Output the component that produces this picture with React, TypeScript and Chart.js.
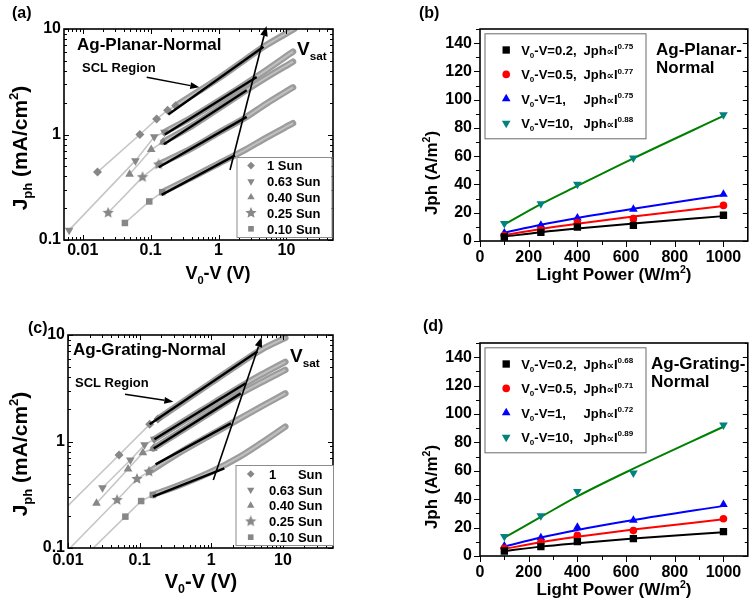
import React, { useEffect, useRef } from 'react';
import { Chart, registerables } from 'chart.js';

Chart.register(...registerables);

const FONT = "'Liberation Sans', Arial, Helvetica, 'DejaVu Sans', sans-serif";

// ================= DATA =================
// Panels (a) and (c): x = V0-V (V), y = Jph (mA/cm2), log-log
const sunLabels = ['1', '0.63', '0.40', '0.25', '0.10'];
const logXTicks = [0.01, 0.1, 1, 10];
const logYTicks = [0.1, 1, 10];

// (a) Ag-Planar-Normal : sparse markers
const aMarks1 = [[0.0165, 0.44], [0.0695, 1.0], [0.1226, 1.4], [0.178, 1.7], [0.234, 1.87]];
const aMarks063 = [[0.0063, 0.124], [0.0597, 0.565], [0.113, 0.95], [0.16, 1.05]];
const aMarks040 = [[0.049, 0.42], [0.102, 0.72], [0.153, 0.85]];
const aMarks025 = [[0.0237, 0.181], [0.076, 0.394], [0.131, 0.52]];
const aMarks010 = [[0.0418, 0.145], [0.0955, 0.232], [0.148, 0.284]];
// (a) dense measured band
const aBand1 = [[0.234, 1.87], [0.5, 2.55], [1, 3.4], [2.5, 5.15], [5, 7.0], [13, 10]];
const aBand063 = [[0.16, 1.05], [0.4, 1.45], [1, 2.08], [2.5, 3.02], [5, 4.05], [12.5, 6.1]];
const aBand040 = [[0.153, 0.85], [0.4, 1.2], [1, 1.76], [2.5, 2.6], [5, 3.45], [12.5, 4.9]];
const aBand025 = [[0.131, 0.52], [0.4, 0.74], [1, 1.04], [2.5, 1.45], [5, 1.95], [12.5, 2.8]];
const aBand010 = [[0.148, 0.284], [0.4, 0.39], [1, 0.53], [2.5, 0.72], [5, 0.93], [12.5, 1.28]];
// (a) SCL fits
const aFit1 = [[0.182, 1.55], [4.6, 6.8]];
const aFit063 = [[0.162, 1.0], [3.65, 3.5]];
const aFit040 = [[0.157, 0.81], [2.6, 2.63]];
const aFit025 = [[0.132, 0.49], [2.6, 1.47]];
const aFit010 = [[0.145, 0.268], [1.75, 0.634]];

// (c) Ag-Grating-Normal : thin-line lead-in points (no marker)
const cLead1 = [0.01, 0.25];
const cLead025 = [0.0107, 0.1];
const cLead010 = [0.0225, 0.1];
const cMarks1 = [[0.0516, 0.747], [0.138, 1.45], [0.18, 1.63]];
const cMarks063 = [[0.0303, 0.368], [0.0742, 0.67], [0.117, 0.93], [0.16, 1.05]];
const cMarks040 = [[0.025, 0.263], [0.0689, 0.552], [0.111, 0.785], [0.155, 0.86]];
const cMarks025 = [[0.0484, 0.282], [0.0918, 0.445], [0.135, 0.521]];
const cMarks010 = [[0.0632, 0.197], [0.105, 0.276], [0.153, 0.315]];
const cBand1 = [[0.18, 1.63], [0.4, 2.35], [1, 3.57], [2.5, 5.4], [5, 7.3], [10.8, 9.4]];
const cBand063 = [[0.16, 1.05], [0.4, 1.53], [1, 2.23], [2.5, 3.25], [5, 4.25], [10.8, 5.6]];
const cBand040 = [[0.155, 0.86], [0.4, 1.28], [1, 1.89], [2.5, 2.8], [5, 3.6], [10.8, 4.7]];
const cBand025 = [[0.135, 0.52], [0.4, 0.82], [1, 1.16], [2.5, 1.64], [5, 2.13], [10.8, 2.83]];
const cBand010 = [[0.153, 0.315], [0.4, 0.4], [1, 0.52], [2.5, 0.72], [5, 0.97], [10.8, 1.38]];
const cFit1 = [[0.138, 1.45], [4.4, 7.0]];
const cFit063 = [[0.161, 1.05], [3.03, 3.52]];
const cFit040 = [[0.157, 0.86], [2.58, 2.83]];
const cFit025 = [[0.167, 0.61], [1.88, 1.48]];
const cFit010 = [[0.153, 0.303], [1.52, 0.56]];

// Panels (b) and (d): x = Light Power (W/m2), y = Jph (A/m2)
const lightPower = [100, 250, 400, 630, 1000];
const linXTicks = [0, 200, 400, 600, 800, 1000];
const linXMinor = [100, 300, 500, 700, 900, 1100];
const linYTicks = [0, 20, 40, 60, 80, 100, 120, 140];
const linYMinor = [10, 30, 50, 70, 90, 110, 130, 150];
const biasLabels = ['0.2', '0.5', '1', '10'];

const bJ02 = [2.8, 6.1, 9.9, 11.1, 18.2];
const bJ05 = [3.8, 8.0, 13.0, 15.8, 25.2];
const bJ1 = [5.7, 11.1, 16.3, 22.4, 33.0];
const bJ10 = [12.3, 26.4, 40.1, 58.7, 89.4];
const bFit02 = [3.1, 6.2, 8.8, 12.3, 17.6];
const bFit05 = [4.2, 8.5, 12.2, 17.3, 24.7];
const bFit1 = [5.8, 11.5, 16.3, 22.8, 32.5];
const bFit10 = [11.7, 26.1, 39.0, 58.5, 88.5];
const bExps = ['0.75', '0.77', '0.75', '0.88'];

const dJ02 = [3.5, 6.6, 10.1, 12.2, 17.2];
const dJ05 = [5.4, 9.7, 14.6, 17.9, 26.2];
const dJ1 = [7.1, 12.9, 20.3, 25.2, 36.3];
const dJ10 = [13.7, 28.3, 45.5, 58.5, 92.2];
const dFit02 = [3.5, 6.6, 9.0, 12.3, 16.8];
const dFit05 = [5.0, 9.7, 13.5, 18.6, 25.8];
const dFit1 = [6.7, 13.0, 18.3, 25.3, 35.3];
const dFit10 = [13.0, 27.5, 42.0, 61.5, 91.0];
const dExps = ['0.68', '0.71', '0.72', '0.89'];

// ================= HELPERS =================
const GRAY_MARK = '#878787';
const GRAY_LINE = '#c6c6c6';
const GRAY_BAND = '#9c9c9c';
const GRAY_BAND_CORE = '#c0c0c0';

let starCanvas: any = null;
function starImg() {
  if (starCanvas) return starCanvas;
  const size = 12;
  const c = document.createElement('canvas');
  c.width = size; c.height = size;
  const g = c.getContext('2d')!;
  g.fillStyle = GRAY_MARK;
  g.beginPath();
  for (let i = 0; i < 10; i++) {
    const r = i % 2 === 0 ? size / 2 : size / 4.4;
    const a = -Math.PI / 2 + (i * Math.PI) / 5;
    const x = size / 2 + r * Math.cos(a);
    const y = size / 2 + r * Math.sin(a);
    if (i) g.lineTo(x, y); else g.moveTo(x, y);
  }
  g.closePath(); g.fill();
  starCanvas = c;
  return c;
}

const sunStyles = [
  { s: 'rectRot', r: 4.5, rot: 0 },
  { s: 'triangle', r: 5, rot: 180 },
  { s: 'triangle', r: 5, rot: 0 },
  { s: 'star', r: 6, rot: 0 },
  { s: 'rect', r: 4.6, rot: 0 },
];

function drawMarker(ctx: any, style: string, x: number, y: number, r: number, color: string, rot = 0) {
  ctx.save();
  ctx.fillStyle = color;
  ctx.beginPath();
  if (style === 'rect') {
    const s = r * Math.SQRT1_2;
    ctx.rect(x - s, y - s, 2 * s, 2 * s);
  } else if (style === 'rectRot') {
    ctx.moveTo(x, y - r); ctx.lineTo(x + r, y); ctx.lineTo(x, y + r); ctx.lineTo(x - r, y); ctx.closePath();
  } else if (style === 'circle') {
    ctx.arc(x, y, r, 0, Math.PI * 2);
  } else if (style === 'triangle') {
    let a = (rot * Math.PI) / 180;
    for (let i = 0; i < 3; i++) {
      const px = x + Math.sin(a) * r, py = y - Math.cos(a) * r;
      if (i) ctx.lineTo(px, py); else ctx.moveTo(px, py);
      a += (2 * Math.PI) / 3;
    }
    ctx.closePath();
  } else if (style === 'star') {
    const im = starImg();
    ctx.drawImage(im, x - im.width / 2, y - im.height / 2);
  }
  ctx.fill();
  ctx.restore();
}

type Seg = [string, string?];
function segSize(size: number, k?: string) {
  return k === 'sub' || k === 'sup' ? size * 0.62 : k === 'sm' ? size * 0.8 : size;
}
function richWidth(ctx: any, segs: Seg[], size: number) {
  let w = 0;
  for (const [t, k] of segs) {
    ctx.font = `bold ${segSize(size, k)}px ${FONT}`;
    w += ctx.measureText(t).width;
  }
  return w;
}
function drawRich(ctx: any, segs: Seg[], x: number, y: number, size: number, align = 'left') {
  let cx = align === 'center' ? x - richWidth(ctx, segs, size) / 2 : x;
  ctx.textAlign = 'left';
  ctx.textBaseline = 'alphabetic';
  ctx.fillStyle = '#000';
  for (const [t, k] of segs) {
    ctx.font = `bold ${segSize(size, k)}px ${FONT}`;
    const dy = k === 'sub' ? size * 0.25 : k === 'sup' ? -size * 0.42 : 0;
    ctx.fillText(t, cx, y + dy);
    cx += ctx.measureText(t).width;
  }
}
function rotRich(ctx: any, segs: Seg[], x: number, y: number, size: number) {
  ctx.save();
  ctx.translate(x, y);
  ctx.rotate(-Math.PI / 2);
  drawRich(ctx, segs, 0, 0, size, 'center');
  ctx.restore();
}
function arrow(ctx: any, x1: number, y1: number, x2: number, y2: number, lw: number, hl: number, hw: number) {
  const ang = Math.atan2(y2 - y1, x2 - x1);
  const bx = x2 - hl * Math.cos(ang), by = y2 - hl * Math.sin(ang);
  ctx.save();
  ctx.strokeStyle = '#000'; ctx.fillStyle = '#000'; ctx.lineWidth = lw;
  ctx.beginPath(); ctx.moveTo(x1, y1); ctx.lineTo(bx, by); ctx.stroke();
  ctx.beginPath();
  ctx.moveTo(x2, y2);
  ctx.lineTo(bx + hw * Math.sin(ang), by - hw * Math.cos(ang));
  ctx.lineTo(bx - hw * Math.sin(ang), by + hw * Math.cos(ang));
  ctx.closePath(); ctx.fill();
  ctx.restore();
}

function logMinors(min: number, max: number) {
  const out: number[] = [];
  for (let e = -4; e <= 3; e++) {
    const d = Math.pow(10, e);
    for (let k = 2; k <= 9; k++) {
      const v = k * d;
      if (v > min * 1.0001 && v < max * 0.9999) out.push(v);
    }
  }
  return out;
}

function drawFrame(chart: any, f: any) {
  const { ctx, chartArea: a, scales } = chart;
  const xs = scales.x, ys = scales.y;
  ctx.save();
  ctx.strokeStyle = '#000';
  ctx.lineWidth = 1;
  const t = (x1: number, y1: number, x2: number, y2: number) => {
    ctx.beginPath(); ctx.moveTo(x1, y1); ctx.lineTo(x2, y2); ctx.stroke();
  };
  const xl: any[] = [[f.xMajor, 5], [f.xMinor, 3]];
  for (const [vals, len] of xl) {
    for (const v of vals) {
      const px = Math.round(xs.getPixelForValue(v)) + 0.5;
      if (px < a.left - 0.5 || px > a.right + 0.5) continue;
      if (f.out) t(px, a.bottom, px, a.bottom + len + 1); else t(px, a.bottom, px, a.bottom - len);
      if (f.mirrorTop) t(px, a.top, px, a.top + len);
    }
  }
  const yl: any[] = [[f.yMajor, 5], [f.yMinor, 3]];
  for (const [vals, len] of yl) {
    for (const v of vals) {
      const py = Math.round(ys.getPixelForValue(v)) + 0.5;
      if (py < a.top - 0.5 || py > a.bottom + 0.5) continue;
      if (f.out) t(a.left, py, a.left - len - 1, py); else t(a.left, py, a.left + len, py);
      t(a.right, py, a.right - len, py);
    }
  }
  ctx.lineWidth = 1.6;
  ctx.strokeRect(a.left, a.top, a.right - a.left, a.bottom - a.top);
  ctx.restore();
}

const tickFont = { family: FONT, size: 16, weight: 'bold' as const };
const xy = (arr: number[][]) => arr.map(([x, y]) => ({ x, y }));

function baseOptions(p: any) {
  return {
    animation: false,
    responsive: false,
    events: [],
    layout: { padding: p.padding },
    plugins: { legend: { display: false }, tooltip: { enabled: false } },
    scales: {
      x: {
        type: p.xType, min: p.xMin, max: p.xMax,
        afterFit: (s: any) => { s.height = p.xAxisH; },
        afterBuildTicks: (s: any) => { s.ticks = p.xTicks.map((v: number) => ({ value: v })); },
        ticks: { font: tickFont, color: '#000', padding: p.xPad, autoSkip: false, maxRotation: 0, callback: (v: any) => String(v) },
        grid: { display: false, drawTicks: false },
        border: { display: false },
      },
      y: {
        type: p.yType, min: p.yMin, max: p.yMax,
        afterFit: (s: any) => { s.width = p.yAxisW; },
        afterBuildTicks: (s: any) => { s.ticks = p.yTicks.map((v: number) => ({ value: v })); },
        ticks: { font: tickFont, color: '#000', padding: p.yPad, autoSkip: false, callback: (v: any) => String(v) },
        grid: { display: false, drawTicks: false },
        border: { display: false },
      },
    },
  };
}

function sunDatasets(marks: number[][][], leads: any[], bands: number[][][], fits: number[][][]) {
  const ds: any[] = [];
  for (let i = 0; i < 5; i++) {
    const st = sunStyles[i];
    const lead = leads[i];
    const pts = lead ? [lead, ...marks[i]] : marks[i];
    ds.push({
      data: xy(fits[i]), showLine: true, borderColor: '#000', borderWidth: 2.4,
      pointRadius: 0, order: 0, clip: 0,
    });
    ds.push({
      data: xy(pts), showLine: true, borderColor: GRAY_LINE, borderWidth: 1.6,
      pointRadius: (c: any) => (lead && c.dataIndex === 0 ? 0 : st.r),
      pointStyle: st.s === 'star' ? starImg() : st.s, pointRotation: st.rot,
      pointBackgroundColor: GRAY_MARK, pointBorderColor: GRAY_MARK, pointBorderWidth: 0,
      order: 1, clip: 0,
    });
    ds.push({
      data: xy(bands[i]), showLine: true, borderColor: GRAY_BAND_CORE, borderWidth: 2,
      pointRadius: 0, cubicInterpolationMode: 'monotone', order: 2, clip: 0,
    });
    ds.push({
      data: xy(bands[i]), showLine: true, borderColor: GRAY_BAND, borderWidth: 6.5,
      pointRadius: 0, cubicInterpolationMode: 'monotone', order: 3, clip: 0, borderCapStyle: 'round',
    });
  }
  return ds;
}

function sunLegend(ctx: any, bx: number, by: number, bw: number, bh: number, cy0: number, mx: number, tx: number, padOne: boolean) {
  ctx.save();
  ctx.fillStyle = '#fff';
  ctx.fillRect(bx, by, bw, bh);
  ctx.strokeStyle = '#8c8c8c';
  ctx.lineWidth = 1;
  ctx.strokeRect(bx + 0.5, by + 0.5, bw, bh);
  ctx.restore();
  for (let i = 0; i < 5; i++) {
    const cy = cy0 + i * 15.8;
    const st = sunStyles[i];
    drawMarker(ctx, st.s, mx, cy, st.s === 'rect' ? 4 : st.r * 0.85, GRAY_MARK, st.rot);
    if (padOne && i === 0) {
      drawRich(ctx, [[sunLabels[0]]], tx, cy + 4.7, 13);
      ctx.font = `bold 13px ${FONT}`;
      const off = ctx.measureText('0.63 ').width;
      drawRich(ctx, [['Sun']], tx + off, cy + 4.7, 13);
    } else {
      drawRich(ctx, [[sunLabels[i] + ' Sun']], tx, cy + 4.7, 13);
    }
  }
}

function lightLegend(ctx: any, bx: number, by: number, exps: string[]) {
  const colors = ['#000000', '#ff0000', '#0000ff', '#00827f'];
  const styles = [['rect', 5.2, 0], ['circle', 3.8, 0], ['triangle', 5, 0], ['triangle', 5, 180]];
  ctx.save();
  ctx.fillStyle = '#fff';
  ctx.fillRect(bx, by, 161, 105);
  ctx.strokeStyle = '#6a6a6a';
  ctx.lineWidth = 1;
  ctx.strokeRect(bx + 0.5, by + 0.5, 161, 105);
  ctx.restore();
  for (let i = 0; i < 4; i++) {
    const cy = by + 16.7 + i * 24.4;
    const [s, r, rot] = styles[i] as any;
    drawMarker(ctx, s, bx + 21.7, cy, r, colors[i], rot);
    drawRich(ctx, [['V'], ['0', 'sub'], ['-V=' + biasLabels[i] + ',']], bx + 36.7, cy + 4.7, 13);
    drawRich(ctx, [['Jph'], ['\u221D', 'sm'], ['I'], [exps[i], 'sup']], bx + 99, cy + 4.7, 13);
  }
}

// ================= PANEL BUILDERS =================
function buildA() {
  const marks = [aMarks1, aMarks063, aMarks040, aMarks025, aMarks010];
  const bands = [aBand1, aBand063, aBand040, aBand025, aBand010];
  const fits = [aFit1, aFit063, aFit040, aFit025, aFit010];
  const opts: any = baseOptions({
    padding: { left: 0, top: 29, right: 43, bottom: 0 },
    xType: 'logarithmic', xMin: 0.0053, xMax: 48.5, xTicks: logXTicks, xAxisH: 60, xPad: 1,
    yType: 'logarithmic', yMin: 0.1, yMax: 10, yTicks: logYTicks, yAxisW: 64, yPad: 3,
  });
  return {
    type: 'scatter',
    data: { datasets: sunDatasets(marks, [null, null, null, null, null], bands, fits) },
    options: opts,
    plugins: [{
      id: 'decoA',
      afterDatasetsDraw: (chart: any) => drawFrame(chart, {
        xMajor: logXTicks, xMinor: logMinors(0.0053, 48.5), yMajor: logYTicks, yMinor: logMinors(0.1, 10),
        out: false, mirrorTop: true,
      }),
      afterDraw: (chart: any) => {
        const ctx = chart.ctx;
        ctx.save();
        drawRich(ctx, [['(a)']], 12, 18, 16);
        drawRich(ctx, [['Ag-Planar-Normal']], 77, 50, 17);
        drawRich(ctx, [['SCL Region']], 82, 72, 13);
        arrow(ctx, 146.7, 77.3, 199.3, 87.3, 1.5, 9, 3.5);
        arrow(ctx, 230, 170, 266.5, 26, 1.6, 10, 3.8);
        drawRich(ctx, [['V'], ['sat', 'sub']], 297, 55, 19);
        sunLegend(ctx, 236.5, 157, 95, 80, 165.6, 251, 267, false);
        drawRich(ctx, [['V'], ['0', 'sub'], ['-V (V)']], 218, 279, 18, 'center');
        rotRich(ctx, [['J'], ['ph', 'sub'], [' (mA/cm'], ['2', 'sup'], [')']], 27, 148, 21);
        ctx.restore();
      },
    }],
  };
}

function buildC() {
  const marks = [cMarks1, cMarks063, cMarks040, cMarks025, cMarks010];
  const bands = [cBand1, cBand063, cBand040, cBand025, cBand010];
  const fits = [cFit1, cFit063, cFit040, cFit025, cFit010];
  const leads = [cLead1, null, null, cLead025, cLead010];
  const opts: any = baseOptions({
    padding: { left: 0, top: 35, right: 43, bottom: 0 },
    xType: 'logarithmic', xMin: 0.01, xMax: 50, xTicks: logXTicks, xAxisH: 55, xPad: 3,
    yType: 'logarithmic', yMin: 0.1, yMax: 10, yTicks: logYTicks, yAxisW: 68, yPad: 3,
  });
  const OY = 300;
  return {
    type: 'scatter',
    data: { datasets: sunDatasets(marks, leads, bands, fits) },
    options: opts,
    plugins: [{
      id: 'decoC',
      afterDatasetsDraw: (chart: any) => drawFrame(chart, {
        xMajor: logXTicks, xMinor: logMinors(0.01, 50), yMajor: logYTicks, yMinor: logMinors(0.1, 10),
        out: false, mirrorTop: true,
      }),
      afterDraw: (chart: any) => {
        const ctx = chart.ctx;
        ctx.save();
        ctx.translate(0, -OY);
        drawRich(ctx, [['(c)']], 28, 333, 16);
        drawRich(ctx, [['Ag-Grating-Normal']], 73, 355, 17);
        drawRich(ctx, [['SCL Region']], 75, 387, 13);
        arrow(ctx, 125, 394.3, 173.3, 401.7, 1.5, 9, 3.5);
        arrow(ctx, 213.3, 480, 261.7, 337, 1.6, 10, 3.8);
        drawRich(ctx, [['V'], ['sat', 'sub']], 290, 362, 19);
        sunLegend(ctx, 235.5, 465, 97.5, 80, 474, 250.7, 269, true);
        drawRich(ctx, [['V'], ['0', 'sub'], ['-V (V)']], 201, 588, 20, 'center');
        rotRich(ctx, [['J'], ['ph', 'sub'], [' (mA/cm'], ['2', 'sup'], [')']], 27, 454, 21);
        ctx.restore();
      },
    }],
  };
}

function lightDatasets(js: number[][], fits: number[][]) {
  const markColors = ['#000000', '#ff0000', '#0000ff', '#00827f'];
  const lineColors = ['#000000', '#ff0000', '#0000ff', '#008000'];
  const styles = [['rect', 5.2, 0], ['circle', 3.8, 0], ['triangle', 5, 0], ['triangle', 5, 180]];
  const ds: any[] = [];
  for (let i = 0; i < 4; i++) {
    const [s, r, rot] = styles[i] as any;
    ds.push({
      data: lightPower.map((x, k) => ({ x, y: js[i][k] })), showLine: false,
      pointStyle: s, pointRadius: r, pointRotation: rot,
      pointBackgroundColor: markColors[i], pointBorderColor: markColors[i], pointBorderWidth: 0, order: 0,
    });
    ds.push({
      data: lightPower.map((x, k) => ({ x, y: fits[i][k] })), showLine: true,
      borderColor: lineColors[i], borderWidth: 2, pointRadius: 0, cubicInterpolationMode: 'monotone', order: 1, clip: 0,
    });
  }
  return ds;
}

function buildLight(letter: string, ox: number, oy: number, topPad: number, xAxisH: number, js: number[][], fits: number[][], exps: string[], name1: string) {
  const opts: any = baseOptions({
    padding: { left: 0, top: topPad, right: 5, bottom: 0 },
    xType: 'linear', xMin: 0, xMax: 1100, xTicks: linXTicks, xAxisH, xPad: 7,
    yType: 'linear', yMin: 0, yMax: 150, yTicks: linYTicks, yAxisW: 104, yPad: 8,
  });
  return {
    type: 'scatter',
    data: { datasets: lightDatasets(js, fits) },
    options: opts,
    plugins: [{
      id: 'deco' + letter,
      afterDatasetsDraw: (chart: any) => drawFrame(chart, {
        xMajor: linXTicks, xMinor: linXMinor, yMajor: linYTicks, yMinor: linYMinor,
        out: true, mirrorTop: false,
      }),
      afterDraw: (chart: any) => {
        const ctx = chart.ctx;
        const a = chart.chartArea;
        ctx.save();
        ctx.translate(-ox, -oy);
        const top = a.top + oy;
        const bottom = a.bottom + oy;
        drawRich(ctx, [['(' + letter + ')']], letter === 'b' ? 419 : 423, top - (letter === 'b' ? 11 : 12), 16);
        lightLegend(ctx, 484.5, top + 4.3, exps);
        drawRich(ctx, [[name1]], letter === 'b' ? 656 : 651, top + 26, 17);
        drawRich(ctx, [['Normal']], letter === 'b' ? 656 : 651, top + 44, 17);
        drawRich(ctx, [['Light Power (W/m'], ['2', 'sup'], [')']], 614, bottom + 39, 17, 'center');
        rotRich(ctx, [['Jph (A/m'], ['2', 'sup'], [')']], 437, top + 144, 17);
        ctx.restore();
      },
    }],
  };
}

const buildB = () => buildLight('b', 376, 0, 29, 59, [bJ02, bJ05, bJ1, bJ10], [bFit02, bFit05, bFit1, bFit10], bExps, 'Ag-Planar-');
const buildD = () => buildLight('d', 376, 300, 43, 47, [dJ02, dJ05, dJ1, dJ10], [dFit02, dFit05, dFit1, dFit10], dExps, 'Ag-Grating-');

// ================= COMPONENTS =================
function Panel({ left, top, width, height, build }: any) {
  const ref = useRef<HTMLCanvasElement>(null);
  useEffect(() => {
    const chart = new Chart(ref.current as any, build() as any);
    return () => chart.destroy();
  }, []);
  return (
    <canvas
      ref={ref}
      width={width}
      height={height}
      style={{ position: 'absolute', left, top, width, height, display: 'block' }}
    />
  );
}

export default function App() {
  return (
    <div style={{ position: 'absolute', left: 0, top: 0, width: 753, height: 603, background: '#fff', overflow: 'hidden' }}>
      <Panel left={0} top={0} width={376} height={300} build={buildA} />
      <Panel left={376} top={0} width={377} height={300} build={buildB} />
      <Panel left={0} top={300} width={376} height={303} build={buildC} />
      <Panel left={376} top={300} width={377} height={303} build={buildD} />
    </div>
  );
}
